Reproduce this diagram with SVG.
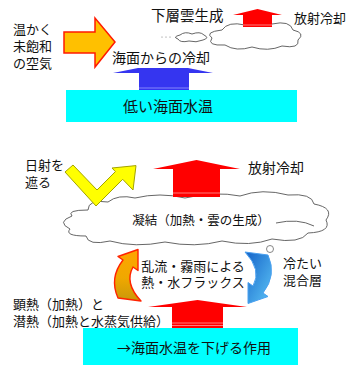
<svg xmlns="http://www.w3.org/2000/svg" width="347" height="365" viewBox="0 0 347 365">
  <style>
    text { font-family: "Liberation Sans", "Noto Sans CJK JP", sans-serif; fill: #111; }
    .t13 { font-size: 13px; }
    .t14 { font-size: 14px; }
    .cjk { font-family: "Noto Sans CJK JP", sans-serif; }
    .cloud { fill: #fff; stroke: #555; stroke-width: 0.9; }
    .cloudline { fill: none; stroke: #555; stroke-width: 0.9; }
    .sea { fill: #00ffff; }
    .red { fill: #ff0000; }
    .stripe { stroke: #ff9a9a; stroke-width: 0.8; }
  </style>
  <defs>
    <linearGradient id="gOrange" x1="0" y1="0" x2="0" y2="1">
      <stop offset="0" stop-color="#ffa400"/>
      <stop offset="0.55" stop-color="#f0a800"/>
      <stop offset="1" stop-color="#c9980a"/>
    </linearGradient>
    <linearGradient id="gBlue" x1="0" y1="0" x2="1" y2="1">
      <stop offset="0" stop-color="#5cc4f6"/>
      <stop offset="1" stop-color="#1462c8"/>
    </linearGradient>
    <!-- curved circulation arrow, tail at bottom, head at top -->
    <path id="curl" d="M 118 298 Q 109 278 123 260 L 118 256.5 L 138 249.5 L 138 270.5 L 133 267 Q 124 283 141 301 Z"/>
  </defs>

  <!-- upper panel -->
  <g id="warm-air-label">
    <text class="t13" x="13" y="34">温かく</text>
    <text class="t13" x="13" y="51">未飽和</text>
    <text class="t13" x="13" y="68">の空気</text>
  </g>
  <g id="warm-air-arrow">
    <polygon points="64,32 95,32 95,18 115,42 95,67 95,53 64,53" fill="#ffc000" stroke="#ff1a00" stroke-width="1.5" stroke-linejoin="miter"/>
  </g>
  <g id="low-cloud">
    <circle cx="162" cy="37" r="0.6" fill="#777"/>
    <circle cx="166" cy="37" r="0.6" fill="#777"/>
    <circle cx="170" cy="37" r="0.6" fill="#777"/>
    <path class="cloud" d="M 180 35 Q 185 31 192 34 Q 200 31 204 35 Q 210 38 203 40 Q 196 43 189 41 Q 180 43 178 39 Q 172 37 180 35 Z"/>
    <path class="cloud" d="M 222 30 Q 228 21 245 25 Q 258 18 272 24 Q 290 20 293 30 Q 306 33 298 40 Q 300 49 282 46 Q 268 52 252 47 Q 236 52 225 45 Q 206 46 212 38 Q 204 32 222 30 Z"/>
    <text x="151" y="20.5" style="font-size:14.5px">下層雲生成</text>
  </g>
  <g id="radiative-cooling-top">
    <polygon class="red" points="233,15 257.5,9 282,15 272,15 272,27 243,27 243,15"/>
    <line class="stripe" x1="243" y1="25" x2="272" y2="25"/>
    <text class="t13" x="294" y="23">放射冷却</text>
  </g>
  <g id="sea-cooling">
    <text class="t14" x="112" y="63">海面からの冷却</text>
    <polygon points="113,73 138,68 188,68 213,73 189,73 189,90 139,90 139,73" fill="#3535f0"/>
    <line x1="139" y1="88" x2="189" y2="88" stroke="#9a9aff" stroke-width="0.8"/>
  </g>
  <g id="low-sst">
    <rect class="sea" x="66" y="90" width="231" height="32"/>
    <text x="123" y="111.5" style="font-size:15px">低い海面水温</text>
  </g>

  <!-- lower panel -->
  <g id="condensation-cloud">
    <path class="cloud" d="M 88 210 Q 88 199 108 202 Q 118 194 135 198 Q 160 192 185 198 Q 215 191 240 196 Q 262 188 288 195 Q 312 193 314 204 Q 335 208 326 220 Q 332 232 308 233 Q 300 244 272 239 Q 250 247 222 241 Q 195 248 165 242 Q 135 248 110 241 Q 88 246 86 236 Q 64 236 70 229 Q 56 222 72 216 Q 66 210 88 210 Z"/>
    <path class="cloudline" d="M 276 223 Q 298 218 314 226"/>
    <text x="201" y="225" text-anchor="middle" style="font-size:12.5px">凝結（加熱・雲の生成）</text>
  </g>
  <g id="solar-shading">
    <text class="t13" x="25" y="170">日射を</text>
    <text class="t13" x="25" y="187">遮る</text>
    <polygon points="65,172 73,165 97,190 115.4,171.6 112,168 136,165.6 133,190 122.7,179.3 96,206" fill="#ffff00" stroke="#a3a300" stroke-width="1" stroke-linejoin="miter"/>
  </g>
  <g id="radiative-cooling-cloud">
    <polygon class="red" points="153,169 196.5,160 240,169 220,169 220,197 173,197 173,169"/>
    <line class="stripe" x1="173" y1="193" x2="220" y2="193"/>
    <text class="t14" x="248" y="173">放射冷却</text>
  </g>
  <g id="bubble">
    <circle cx="270" cy="249" r="3.5" fill="#fff" stroke="#777" stroke-width="0.9"/>
  </g>
  <g id="turbulent-flux">
    <use href="#curl" fill="url(#gOrange)" stroke="#ff2200" stroke-width="1.4" stroke-linejoin="round"/>
    <use href="#curl" transform="rotate(180 193 276.5)" fill="url(#gBlue)" stroke="#4aa0f0" stroke-width="1" stroke-linejoin="round"/>
    <text class="t13" x="193" y="271" text-anchor="middle">乱流・霧雨による</text>
    <text class="t13" x="193" y="287" text-anchor="middle">熱・水フラックス</text>
  </g>
  <g id="mixed-layer">
    <text class="t13" x="283" y="268">冷たい</text>
    <text class="t13" x="283" y="285">混合層</text>
  </g>
  <g id="surface-heat-flux">
    <text class="t13" x="13" y="309">顕熱（加熱）と</text>
    <text class="t13" x="13" y="326">潜熱（加熱と水蒸気供給）</text>
    <polygon class="red" points="148,307 197.5,300 247,307 223,307 223,328 172,328 172,307"/>
    <line class="stripe" x1="172" y1="323" x2="223" y2="323"/>
    <line class="stripe" x1="172" y1="325.5" x2="223" y2="325.5"/>
  </g>
  <g id="sst-lowering">
    <rect class="sea" x="83" y="328" width="215" height="37"/>
    <text class="t14" x="117" y="353"><tspan class="cjk">→</tspan>海面水温を下げる作用</text>
  </g>
</svg>
